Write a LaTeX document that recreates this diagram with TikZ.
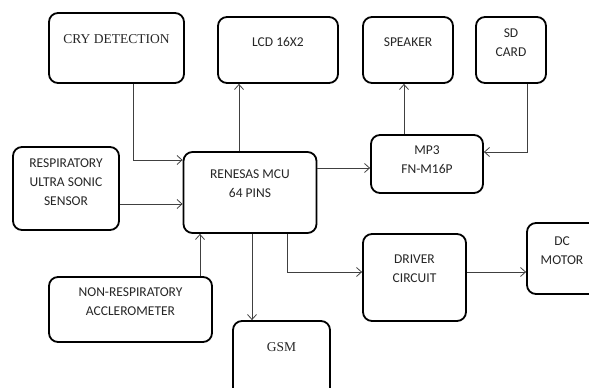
\documentclass[tikz,border=0pt]{standalone}
\usepackage{fontspec}
\setmainfont{Liberation Serif}
\newfontfamily\bodysans{Carlito}
\usetikzlibrary{arrows.meta}
\definecolor{linegray}{RGB}{64,64,64}
\tikzset{
	blk/.style={rectangle, rounded corners=9pt, draw=black, line width=1.8pt, fill=white, inner sep=0pt},
	sanslbl/.style={anchor=center, align=center, font=\bodysans\fontsize{13.5}{19}\selectfont, text=black!85},
	seriflbl/.style={anchor=center, align=center, font=\fontsize{13.5}{16}\selectfont, text=black!85},
	arrow/.style={-{Straight Barb[length=5pt,width=9pt]}, line width=0.8pt, draw=linegray},
}

\begin{document}
\begin{tikzpicture}[x=1pt, y=-1pt]
		\clip (0,0) rectangle (589,388);
		% blocks
		\node[blk, minimum width=135pt, minimum height=70pt, label={[seriflbl, yshift=-27pt]north:CRY DETECTION}] (cry) at (116.5,48) {};
		\node[blk, minimum width=120pt, minimum height=66pt, label={[sanslbl, yshift=-26pt]north:LCD 16X2}] (lcd) at (278,50) {};
		\node[blk, minimum width=90pt, minimum height=66pt, label={[sanslbl, yshift=-26pt]north:SPEAKER}] (spk) at (408,50) {};
		\node[blk, minimum width=70pt, minimum height=66pt, label={[sanslbl, yshift=-27pt]north:{SD\\CARD}}] (sd) at (511,50) {};
		\node[blk, minimum width=112pt, minimum height=58pt, label={[sanslbl, yshift=-26pt]north:{MP3\\FN-M16P}}] (mp3) at (427,164) {};
		\node[blk, minimum width=133pt, minimum height=81pt, label={[sanslbl, yshift=-33pt]north:{RENESAS MCU\\64 PINS}}] (mcu) at (250,192.5) {};
		\node[blk, minimum width=106pt, minimum height=83pt, label={[sanslbl, yshift=-36pt]north:{RESPIRATORY\\ULTRA SONIC\\SENSOR}}] (resp) at (66,188.5) {};
		\node[blk, minimum width=163pt, minimum height=65pt, label={[sanslbl, yshift=-25.5pt]north:{NON-RESPIRATORY\\ACCLEROMETER}}] (nonr) at (130.5,309.5) {};
		\node[blk, minimum width=97pt, minimum height=80pt, label={[seriflbl, yshift=-27pt]north:GSM}] (gsm) at (281.5,361) {};
		\node[blk, minimum width=103pt, minimum height=87pt, label={[sanslbl, yshift=-35.5pt]north:{DRIVER\\CIRCUIT}}] (drv) at (414.5,277.5) {};
		\node[blk, minimum width=80pt, minimum height=71pt, label={[sanslbl, yshift=-28.5pt, xshift=-5pt]north:{DC\\MOTOR}}] (dc) at (567,258.5) {};
		% connections
		\draw[arrow] ([xshift=16.5pt]cry.south) |- ([yshift=32.5pt]mcu.west);
		\draw[arrow] ([xshift=-11pt]mcu.north) -- ([xshift=-11pt]mcu.north |- lcd.south);
		\draw[arrow] ([yshift=24.5pt]mcu.east) -- ([yshift=24.5pt]mcu.east -| mp3.west);
		\draw[arrow] ([xshift=-23pt]mp3.north) -- ([xshift=-23pt]mp3.north |- spk.south);
		\draw[arrow] ([xshift=16pt]sd.south) |- ([yshift=12pt]mp3.east);
		\draw[arrow] ([yshift=-15.5pt]resp.east) -- ([yshift=-15.5pt]resp.east -| mcu.west);
		\draw[arrow] ([xshift=69.5pt]nonr.north) -- ([xshift=69.5pt]nonr.north |- mcu.south);
		\draw[arrow] ([xshift=2pt]mcu.south) -- ([xshift=2pt]mcu.south |- gsm.north);
		\draw[arrow] ([xshift=37pt]mcu.south) |- ([yshift=5.5pt]drv.west);
		\draw[arrow] ([yshift=5.5pt]drv.east) -- ([yshift=5.5pt]drv.east -| dc.west);
	\end{tikzpicture}
\end{document}
